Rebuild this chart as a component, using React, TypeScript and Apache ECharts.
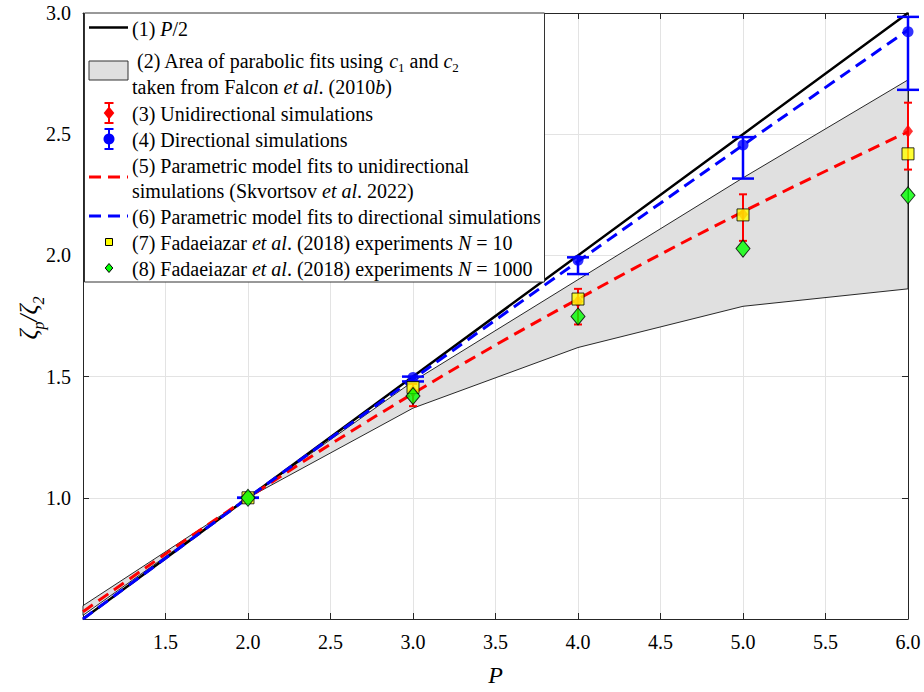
import React, { useEffect, useRef } from "react";
import * as echarts from "echarts";

// ---- data ----
const P = [1, 2, 3, 4, 5, 6];
const halfP = [0.5, 1.0, 1.5, 2.0, 2.5, 3.0];
// shaded area of parabolic fits (two bounding curves)
const shadeLow = [0.555, 1.0, 1.37, 1.62, 1.79, 1.862];
const shadeHigh = [0.515, 1.0, 1.48, 1.9, 2.32, 2.724];
// (3) unidirectional simulations
const uniP = [2, 3, 4, 5, 6];
const uniMean = [1.0, 1.44, 1.81, 2.17, 2.512];
const uniLo = [1.0, 1.378, 1.715, 2.06, 2.354];
const uniHi = [1.0, 1.47, 1.862, 2.252, 2.63];
// (4) directional simulations
const dirP = [2, 3, 4, 5, 6];
const dirMean = [1.0, 1.496, 1.98, 2.455, 2.923];
const dirLo = [1.0, 1.48, 1.923, 2.317, 2.683];
const dirHi = [1.0, 1.5, 1.992, 2.488, 2.984];
// (5) parametric fit unidirectional, (6) directional
const fitUni = [0.53, 1.0, 1.43, 1.82, 2.18, 2.51];
const fitDir = [0.5, 1.0, 1.49, 1.975, 2.455, 2.93];
// (7) N = 10, (8) N = 1000
const expP = [2, 3, 4, 5, 6];
const exp10 = [1.0, 1.455, 1.82, 2.167, 2.419];
const exp1000 = [1.0, 1.42, 1.748, 2.028, 2.248];

const xTicks = { min: 1, max: 6, interval: 0.5 };
const yTicks = { min: 0.5, max: 3, interval: 0.5 };

const FONT = "'Liberation Serif', 'Times New Roman', serif";

function errorBarSeries(xs: number[], lo: number[], hi: number[], color: string, half: number, lw: number, z: number) {
  return {
    type: "custom",
    z,
    clip: false,
    data: xs.map((x, i) => [x, lo[i], hi[i]]),
    encode: { x: 0, y: [1, 2] },
    renderItem: (params: any, api: any) => {
      const x = api.value(0);
      const a = api.coord([x, api.value(1)]);
      const b = api.coord([x, api.value(2)]);
      const st = { stroke: color, lineWidth: lw };
      return {
        type: "group",
        children: [
          { type: "line", shape: { x1: a[0], y1: a[1], x2: b[0], y2: b[1] }, style: st },
          { type: "line", shape: { x1: a[0] - half, y1: a[1], x2: a[0] + half, y2: a[1] }, style: st },
          { type: "line", shape: { x1: b[0] - half, y1: b[1], x2: b[0] + half, y2: b[1] }, style: st },
        ],
      };
    },
  };
}

export default function App() {
  const ref = useRef<HTMLDivElement>(null);
  useEffect(() => {
    if (!ref.current) return;
    const chart = echarts.init(ref.current, null, { renderer: "svg" });

    const tickLabel = { fontFamily: FONT, fontSize: 20, color: "#000" };
    const axisLine = { show: true, lineStyle: { color: "#262626", width: 1 } };
    const axisTick = { show: true, inside: true, length: 6, lineStyle: { color: "#262626" } };
    const splitLine = { show: true, lineStyle: { color: "#e3e3e3", width: 1 } };

    const txt = (x: number, y: number, text: string) => ({
      type: "text",
      x,
      y,
      z: 101,
      style: {
        text,
        fill: "#000",
        fontFamily: FONT,
        fontSize: 20,
        verticalAlign: "middle",
        rich: {
          i: { fontFamily: FONT, fontSize: 20, fontStyle: "italic" },
          s: { fontFamily: FONT, fontSize: 13, verticalAlign: "bottom", lineHeight: 26 },
        },
      },
    });

    const LX0 = 89, LX1 = 128, LXC = 109, TX = 132;
    const hline = (x1: number, x2: number, y: number, stroke: string, lw: number, dash?: number[]) => ({
      type: "line", z: 101, shape: { x1, y1: y, x2, y2: y }, style: { stroke, lineWidth: lw, lineDash: dash },
    });
    const errSample = (cy: number, color: string) => [
      { type: "line", z: 101, shape: { x1: LXC, y1: cy - 10, x2: LXC, y2: cy + 10 }, style: { stroke: color, lineWidth: 2 } },
      { type: "line", z: 101, shape: { x1: LXC - 4.5, y1: cy - 10, x2: LXC + 4.5, y2: cy - 10 }, style: { stroke: color, lineWidth: 2 } },
      { type: "line", z: 101, shape: { x1: LXC - 4.5, y1: cy + 10, x2: LXC + 4.5, y2: cy + 10 }, style: { stroke: color, lineWidth: 2 } },
    ];
    const legend: any[] = [
      { type: "rect", z: 100, shape: { x: 84.5, y: 13, width: 460, height: 269 }, style: { fill: "#fff", stroke: "#333", lineWidth: 1 } },
      hline(LX0, LX1, 27.5, "#000", 2.5),
      txt(TX, 29, "(1) {i|P}/2"),
      { type: "rect", z: 101, shape: { x: LX0, y: 61, width: 39, height: 19 }, style: { fill: "#e0e0e0", stroke: "#333", lineWidth: 1 } },
      txt(TX + 5, 61, "(2) Area of parabolic fits using {i|c}{s|1} and {i|c}{s|2}"),
      txt(TX, 87, "taken from Falcon {i|et al}. (2010{i|b})"),
      ...errSample(113, "#f00"),
      { type: "polygon", z: 102, shape: { points: [[LXC, 106.5], [LXC + 5.3, 113], [LXC, 119.5], [LXC - 5.3, 113]] }, style: { fill: "#f00" } },
      txt(TX, 114, "(3) Unidirectional simulations"),
      ...errSample(139, "#00f"),
      { type: "circle", z: 102, shape: { cx: LXC, cy: 139, r: 5.5 }, style: { fill: "#00f" } },
      txt(TX, 140, "(4) Directional simulations"),
      hline(LX0, LX1, 177, "#f00", 3, [12, 7]),
      txt(TX, 166, "(5) Parametric model fits to unidirectional"),
      txt(TX, 191, "simulations (Skvortsov {i|et al}. 2022)"),
      hline(LX0, LX1, 216, "#00f", 3, [12, 7]),
      txt(TX, 217, "(6) Parametric model fits to directional simulations"),
      { type: "rect", z: 101, shape: { x: LXC - 3.5, y: 238.5, width: 7, height: 7 }, style: { fill: "#ff0", stroke: "#000", lineWidth: 1 } },
      txt(TX, 243, "(7) Fadaeiazar {i|et al}. (2018) experiments {i|N} = 10"),
      { type: "polygon", z: 101, shape: { points: [[LXC, 263.5], [LXC + 3.8, 268], [LXC, 272.5], [LXC - 3.8, 268]] }, style: { fill: "#0f0", stroke: "#000", lineWidth: 1 } },
      txt(TX, 269, "(8) Fadaeiazar {i|et al}. (2018) experiments {i|N} = 1000"),
      {
        type: "text",
        x: 28,
        y: 318,
        rotation: Math.PI / 2,
        style: {
          text: "{i|ζ}{s|p}{i|/ζ}{s|2}",
          fill: "#000",
          align: "center",
          verticalAlign: "middle",
          rich: {
            i: { fontFamily: FONT, fontSize: 25, fontStyle: "italic" },
            s: { fontFamily: FONT, fontSize: 16, fontStyle: "italic", verticalAlign: "bottom", lineHeight: 36 },
          },
        },
      },
    ];

    chart.setOption({
      animation: false,
      backgroundColor: "#fff",
      grid: { left: 83, width: 825, top: 13, height: 616, containLabel: false },
      xAxis: [
        {
          type: "value", ...xTicks,
          axisLine, axisTick, splitLine,
          axisLabel: { ...tickLabel, margin: 13, formatter: (v: number) => (v === 1 ? "" : v.toFixed(1)) },
          name: "P", nameLocation: "middle", nameGap: 44,
          nameTextStyle: { fontFamily: FONT, fontSize: 24, fontStyle: "italic", color: "#000" },
        },
        { type: "value", position: "top", ...xTicks, axisLine, axisTick, splitLine: { show: false }, axisLabel: { show: false } },
      ],
      yAxis: [
        {
          type: "value", ...yTicks,
          axisLine, axisTick, splitLine,
          axisLabel: { ...tickLabel, margin: 12, formatter: (v: number) => (v === 0.5 ? "" : v.toFixed(1)) },
        },
        { type: "value", position: "right", ...yTicks, axisLine, axisTick, splitLine: { show: false }, axisLabel: { show: false } },
      ],
      graphic: legend,
      series: [
        {
          type: "custom",
          z: 1,
          data: P.map((p, i) => [p, shadeLow[i], shadeHigh[i]]),
          encode: { x: 0, y: [1, 2] },
          renderItem: (params: any, api: any) => {
            if (params.dataIndex !== 0) return null;
            const pts: number[][] = [];
            P.forEach((p, i) => pts.push(api.coord([p, shadeLow[i]])));
            for (let i = P.length - 1; i >= 0; i--) pts.push(api.coord([P[i], shadeHigh[i]]));
            return { type: "polygon", shape: { points: pts }, style: { fill: "#e0e0e0", stroke: "#111", lineWidth: 0.9 } };
          },
        },
        {
          type: "line", z: 3, data: P.map((p, i) => [p, halfP[i]]), symbol: "none",
          lineStyle: { color: "#000", width: 2.5 },
        },
        {
          type: "line", z: 4, data: P.map((p, i) => [p, fitUni[i]]), symbol: "none", smooth: 0.4,
          lineStyle: { color: "#f00", width: 3, type: [12, 7] },
        },
        {
          type: "line", z: 4, data: P.map((p, i) => [p, fitDir[i]]), symbol: "none", smooth: 0.4,
          lineStyle: { color: "#00f", width: 3, type: [12, 7] },
        },
        errorBarSeries(uniP, uniLo, uniHi, "#f00", 4, 2, 5),
        errorBarSeries(dirP, dirLo, dirHi, "#00f", 11, 2.5, 6),
        {
          type: "scatter", z: 7, data: uniP.map((p, i) => [p, uniMean[i]]),
          symbol: "diamond", symbolSize: [10, 13], itemStyle: { color: "#f00" },
        },
        {
          type: "scatter", z: 7, data: dirP.map((p, i) => [p, dirMean[i]]),
          symbol: "circle", symbolSize: 11, itemStyle: { color: "#00f" },
        },
        {
          type: "scatter", z: 8, data: expP.map((p, i) => [p, exp10[i]]),
          symbol: "rect", symbolSize: 12, itemStyle: { color: "#ff0", borderColor: "#000", borderWidth: 1 },
        },
        {
          type: "scatter", z: 9, data: expP.map((p, i) => [p, exp1000[i]]),
          symbol: "diamond", symbolSize: [14, 17], itemStyle: { color: "#0f0", borderColor: "#000", borderWidth: 1 },
        },
      ],
    });
    return () => chart.dispose();
  }, []);
  return <div ref={ref} style={{ width: 924, height: 692, position: "absolute", left: 0, top: 0 }} />;
}
